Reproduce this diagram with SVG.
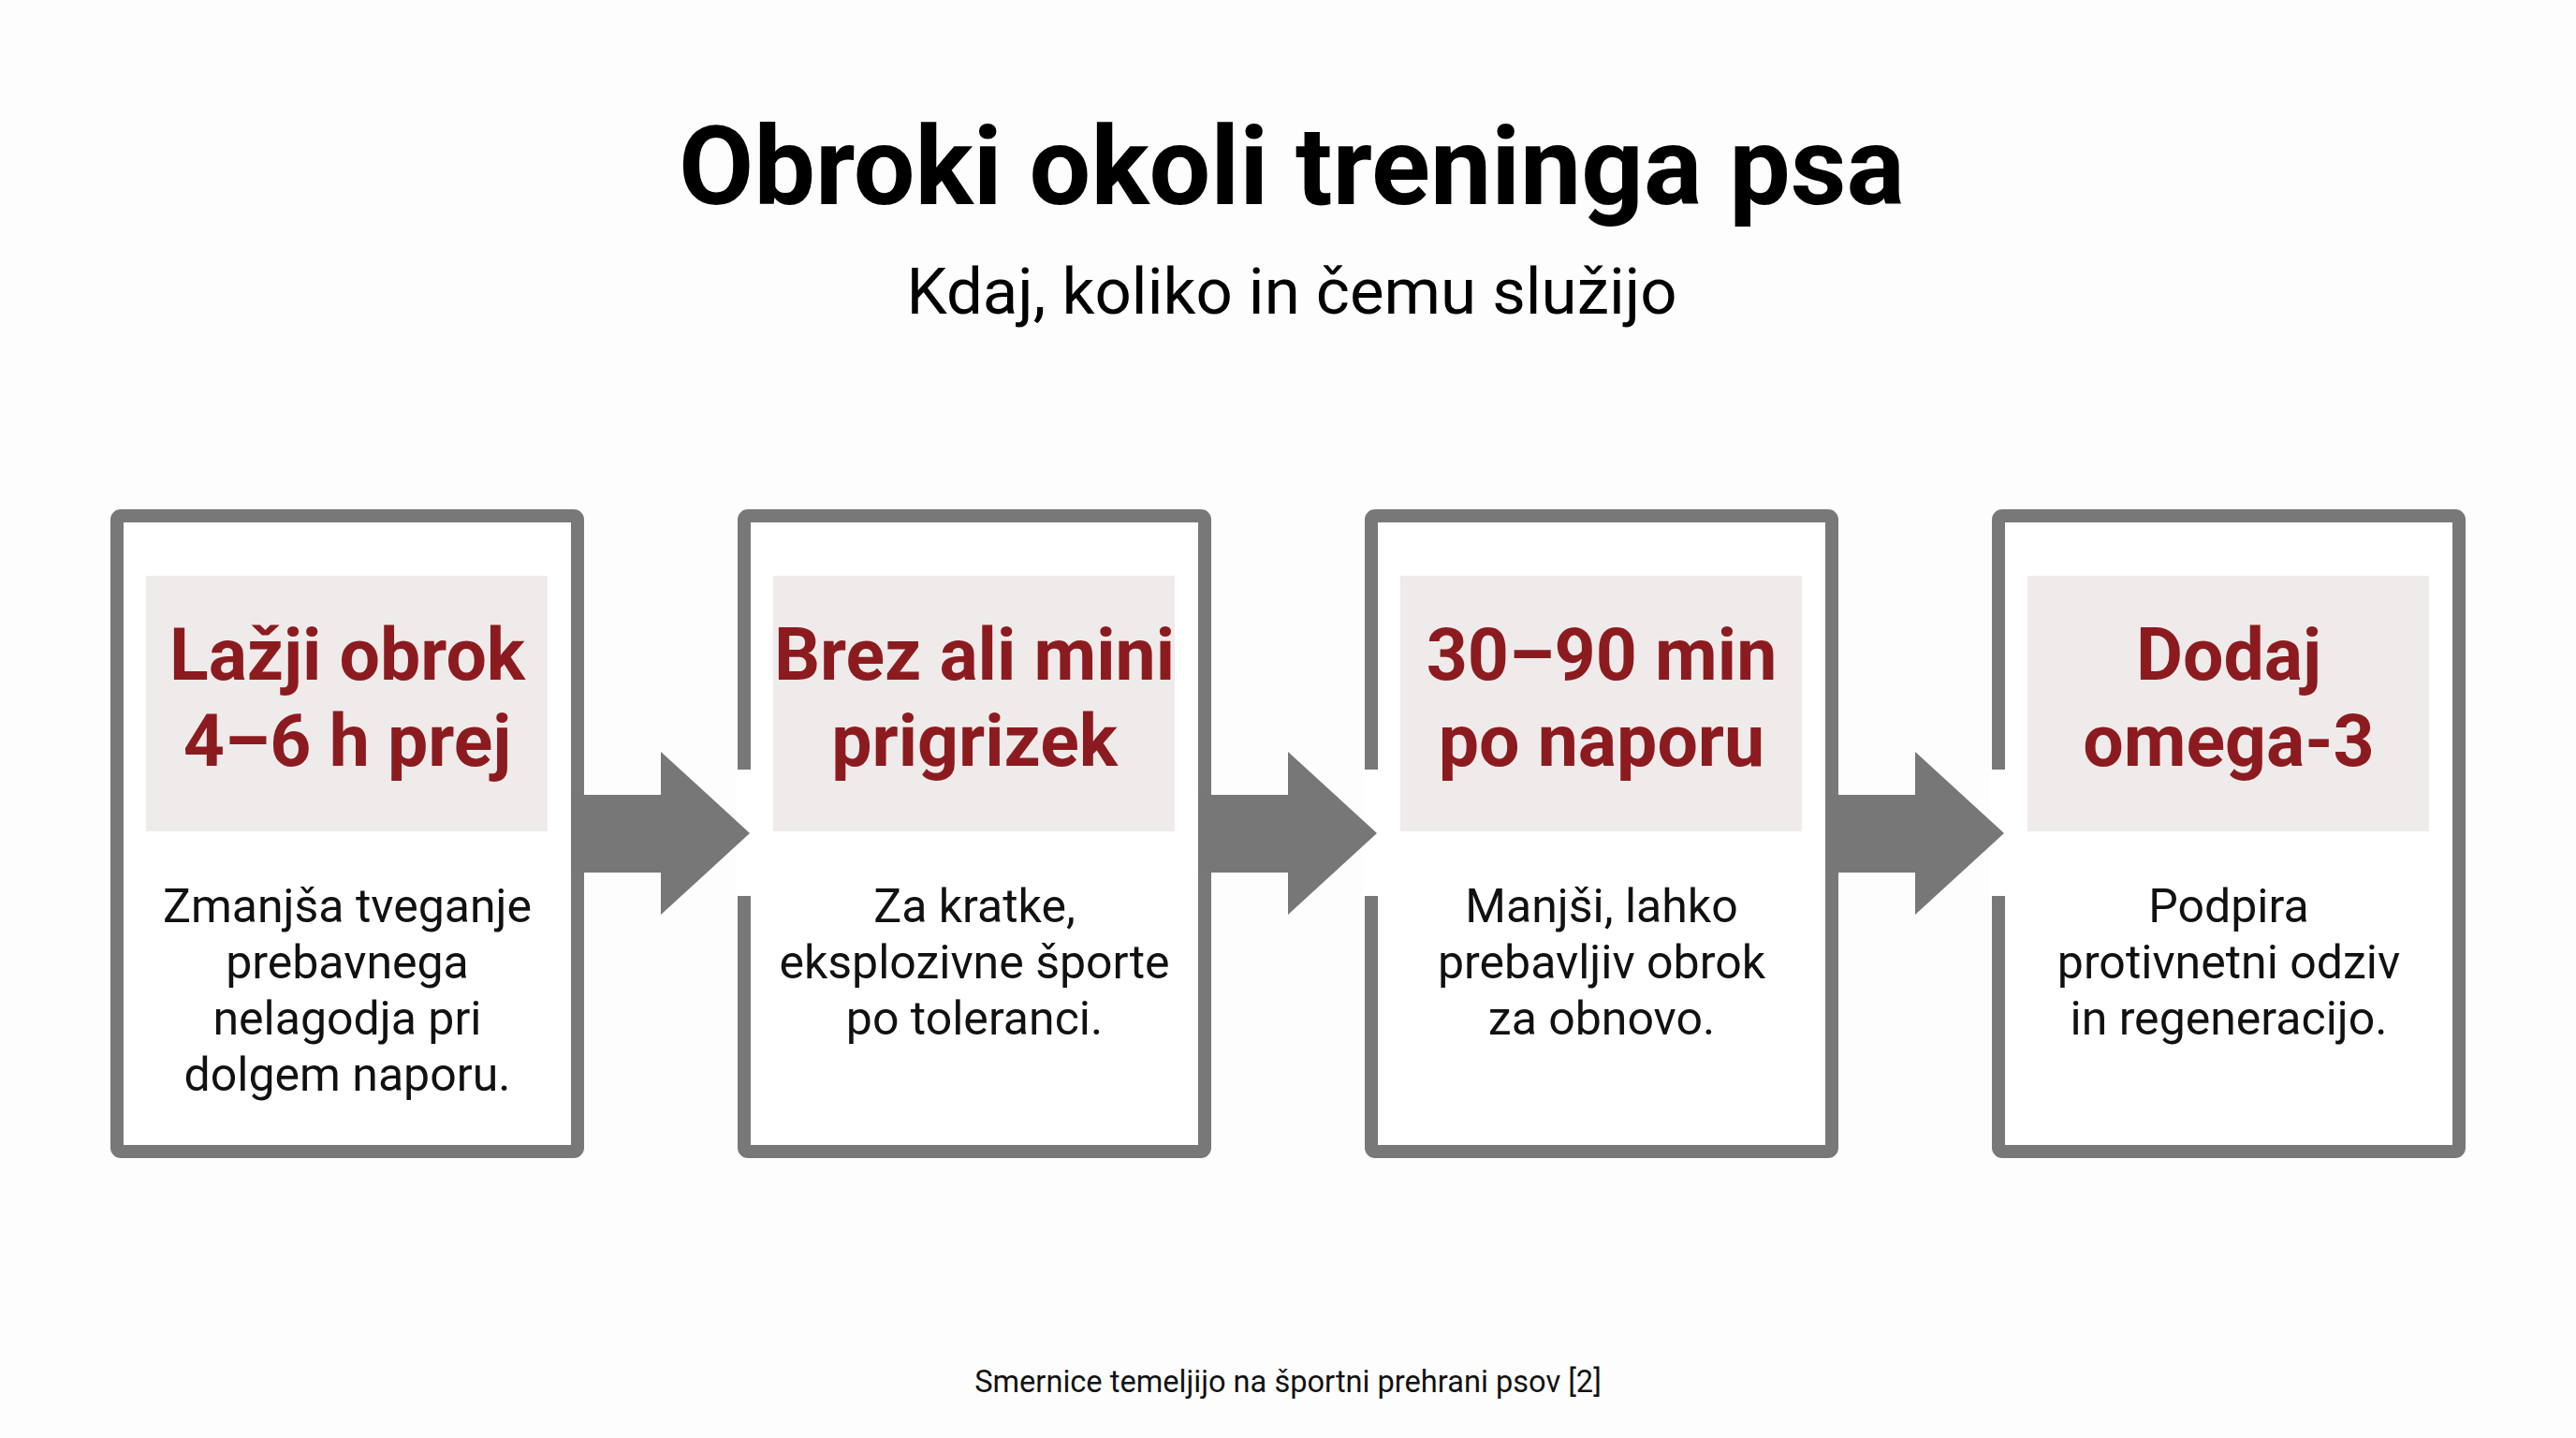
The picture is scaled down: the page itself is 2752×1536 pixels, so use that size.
<svg xmlns="http://www.w3.org/2000/svg" width="2752" height="1536" viewBox="0 0 2752 1536">
<style>
.bg{fill:#fdfdfd}
.title{font-family:Roboto,"Liberation Sans",sans-serif;font-weight:700;font-size:116.5px;fill:#000;text-anchor:middle}
.sub{font-family:Roboto,"Liberation Sans",sans-serif;font-size:69px;fill:#000;text-anchor:middle}
.foot{font-family:Roboto,"Liberation Sans",sans-serif;font-size:32.6px;fill:#111;text-anchor:middle}
.frame{fill:#fff;stroke:#787878;stroke-width:14}
.label{fill:#f0ebeb}
.head{font-family:Roboto,"Liberation Sans",sans-serif;font-weight:700;font-size:77px;fill:#8c1b1f;text-anchor:middle}
.body{font-family:Roboto,"Liberation Sans",sans-serif;font-size:50px;fill:#111;text-anchor:middle}
.arrow{fill:#777}
.gap{fill:#fff}
</style>
<rect class="bg" x="0" y="0" width="2752" height="1536"/>
<g id="header">
<text class="title" x="1380" y="218">Obroki okoli treninga psa</text>
<text class="sub" x="1380" y="335">Kdaj, koliko in čemu služijo</text>
</g>
<g id="node1">
<rect class="frame" x="125" y="551" width="492" height="679" rx="4"/>
<rect class="label" x="156" y="615" width="429" height="273"/>
<text class="head" x="371" y="726">Lažji obrok</text>
<text class="head" x="371" y="818">4–6 h prej</text>
<text class="body" x="371" y="985">Zmanjša tveganje</text>
<text class="body" x="371" y="1045">prebavnega</text>
<text class="body" x="371" y="1105">nelagodja pri</text>
<text class="body" x="371" y="1165">dolgem naporu.</text>
</g>
<g id="node2">
<rect class="frame" x="795" y="551" width="492" height="679" rx="4"/>
<rect class="label" x="826" y="615" width="429" height="273"/>
<text class="head" x="1041" y="726">Brez ali mini</text>
<text class="head" x="1041" y="818">prigrizek</text>
<text class="body" x="1041" y="985">Za kratke,</text>
<text class="body" x="1041" y="1045">eksplozivne športe</text>
<text class="body" x="1041" y="1105">po toleranci.</text>
</g>
<g id="node3">
<rect class="frame" x="1465" y="551" width="492" height="679" rx="4"/>
<rect class="label" x="1496" y="615" width="429" height="273"/>
<text class="head" x="1711" y="726">30–90 min</text>
<text class="head" x="1711" y="818">po naporu</text>
<text class="body" x="1711" y="985">Manjši, lahko</text>
<text class="body" x="1711" y="1045">prebavljiv obrok</text>
<text class="body" x="1711" y="1105">za obnovo.</text>
</g>
<g id="node4">
<rect class="frame" x="2135" y="551" width="492" height="679" rx="4"/>
<rect class="label" x="2166" y="615" width="429" height="273"/>
<text class="head" x="2381" y="726">Dodaj</text>
<text class="head" x="2381" y="818">omega-3</text>
<text class="body" x="2381" y="985">Podpira</text>
<text class="body" x="2381" y="1045">protivnetni odziv</text>
<text class="body" x="2381" y="1105">in regeneracijo.</text>
</g>
<g id="connectors">
<rect class="gap" x="786" y="822" width="16" height="135"/>
<path class="arrow" d="M610 849 H706 V803 L801 890 L706 977 V932 H610 Z"/>
<rect class="gap" x="1456" y="822" width="16" height="135"/>
<path class="arrow" d="M1280 849 H1376 V803 L1471 890 L1376 977 V932 H1280 Z"/>
<rect class="gap" x="2126" y="822" width="16" height="135"/>
<path class="arrow" d="M1950 849 H2046 V803 L2141 890 L2046 977 V932 H1950 Z"/>
</g>
<g id="footer">
<text class="foot" x="1376" y="1487">Smernice temeljijo na športni prehrani psov [2]</text>
</g>
</svg>
